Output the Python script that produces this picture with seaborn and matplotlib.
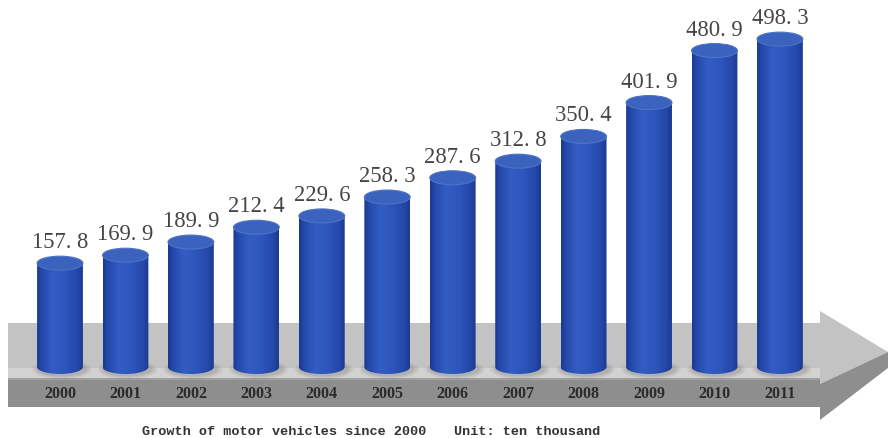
import numpy as np
import matplotlib
matplotlib.use("Agg")
import matplotlib.pyplot as plt
import seaborn as sns
from matplotlib.patches import Polygon, Ellipse
from matplotlib.colors import LinearSegmentedColormap
from matplotlib import transforms

# Motor vehicle ownership, ten-thousand units
years = ["2000", "2001", "2002", "2003", "2004", "2005",
         "2006", "2007", "2008", "2009", "2010", "2011"]
vehicles = [157.8, 169.9, 189.9, 212.4, 229.6, 258.3,
            287.6, 312.8, 350.4, 401.9, 480.9, 498.3]
caption = "Growth of motor vehicles since 2000"
unit_note = "Unit: ten thousand"

W, H = 888, 438
sns.set_style("white")
fig = plt.figure(figsize=(W / 100, H / 100), dpi=100)
ax = fig.add_axes([0, 0, 1, 1])

# pixel geometry of the category / value axes
x_step = 65.45          # px between cylinders
x_first = 60.0          # px centre of first cylinder
base_px = 367.0         # px of value 0 (from top)
y_scale = 0.658         # px per unit
bar_w = 0.70
ry_px = 7.0
ry = ry_px / y_scale

xlim = (-x_first / x_step, (W - x_first) / x_step)
ylim = (-(H - base_px) / y_scale, base_px / y_scale)


def fig_xy(px, py):
    return (px / W, 1 - py / H)


def fig_poly(points, color, z):
    ax.add_patch(Polygon([fig_xy(*p) for p in points], closed=True,
                         transform=fig.transFigure, facecolor=color,
                         edgecolor="none", zorder=z))


# ---- gray arrow platform -------------------------------------------------
fig_poly([(8, 323), (820, 323), (820, 311), (888, 352), (820, 384),
          (820, 378), (8, 378)], "#c3c3c3", 0)
fig_poly([(8, 368), (820, 368), (820, 378), (8, 378)], "#d2d2d2", 0.2)
fig_poly([(8, 378), (820, 378), (820, 384), (888, 352), (888, 368),
          (820, 420), (820, 407), (8, 407)], "#8e8e8e", 0.3)
fig_poly([(8, 378), (820, 378), (820, 380), (8, 380)], "#a0a0a0", 0.4)

# ---- cylinders -----------------------------------------------------------
sns.barplot(x=years, y=vehicles, color="#2c50b4", width=bar_w,
            saturation=1, ax=ax, zorder=2, edgecolor="none")

body_cmap = LinearSegmentedColormap.from_list(
    "cyl", [(0.0, "#1a388f"), (0.10, "#2448aa"), (0.35, "#335dc4"),
            (0.60, "#2e57bd"), (0.88, "#2547aa"), (1.0, "#1b3990")])
grad = np.linspace(0, 1, 256)[None, :]

for patch in list(ax.patches):
    if patch.get_zorder() != 2:
        continue
    x0 = patch.get_x()
    w = patch.get_width()
    h = patch.get_height()
    cx = x0 + w / 2
    # soft shadow on the platform
    for k, a in enumerate([0.06, 0.08, 0.10]):
        s = 1.30 - 0.1 * k
        ax.add_patch(Ellipse((cx + 0.03, -ry * 0.35), w * s, ry * (2.8 - 0.4 * k),
                             facecolor="#4a4036", alpha=a, edgecolor="none",
                             zorder=1))
    # body with rounded bottom
    th = np.linspace(np.pi, 2 * np.pi, 60)
    verts = [(x0, h), (x0, 0)] + [(cx + w / 2 * np.cos(t), ry * np.sin(t)) for t in th] \
        + [(x0 + w, 0), (x0 + w, h)]
    clip = Polygon(verts, closed=True, transform=ax.transData,
                   facecolor="none", edgecolor="none")
    ax.add_patch(clip)
    img = ax.imshow(grad, cmap=body_cmap, aspect="auto",
                    extent=[x0, x0 + w, -ry, h], zorder=3, interpolation="bilinear")
    img.set_clip_path(clip)
    patch.set_visible(False)
    # top cap
    ax.add_patch(Ellipse((cx, h), w, 2 * ry, facecolor="#3b62bd",
                         edgecolor="#4d74c8", linewidth=0.8, zorder=4))

# ---- labels --------------------------------------------------------------
for i, v in enumerate(vehicles):
    label = f"{v:.1f}".replace(".", ". ")
    ax.annotate(label, (i, v), xytext=(0, (ry_px + 8) * 72 / 100),
                textcoords="offset points", ha="center", va="baseline",
                fontsize=16.3, family="Liberation Serif", color="#444444",
                zorder=5)

year_tr = transforms.blended_transform_factory(ax.transData, fig.transFigure)
for i, yr in enumerate(years):
    ax.text(i, 1 - 394.5 / H, yr, transform=year_tr, ha="center", va="center",
            fontsize=11.5, family="Liberation Serif", fontweight="bold",
            color="#2b2b2b", zorder=5)

fig.text(142 / W, 1 - 432 / H, caption, ha="left", va="center",
         fontsize=9.7, family="Liberation Mono", fontweight="bold",
         color="#333333")
fig.text(600 / W, 1 - 432 / H, unit_note, ha="right", va="center",
         fontsize=9.7, family="Liberation Mono", fontweight="bold",
         color="#333333")

ax.set_xlim(*xlim)
ax.set_ylim(*ylim)
ax.axis("off")
fig.savefig("out.png", dpi=100, facecolor="white")
